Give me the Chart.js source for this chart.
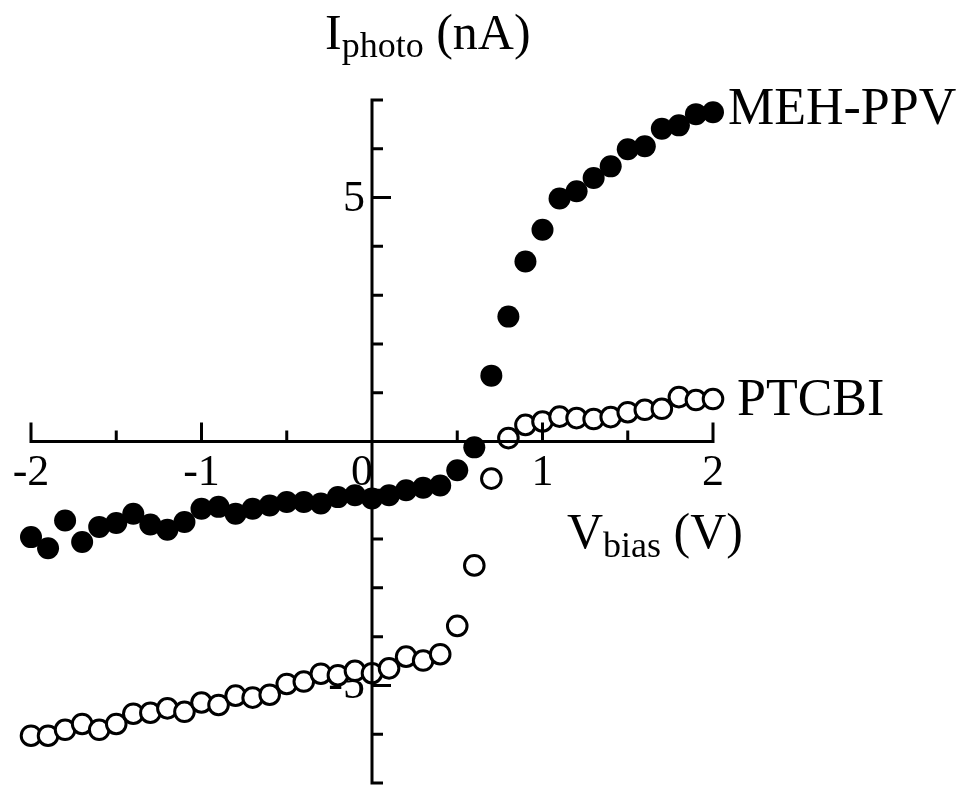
<!DOCTYPE html>
<html><head><meta charset="utf-8">
<script src="https://cdn.jsdelivr.net/npm/chart.js@4.4.0/dist/chart.umd.min.js"></script>
<style>html,body{margin:0;padding:0;background:#fff;} canvas{display:block;}</style>
</head><body>
<canvas id="c" width="967" height="787"></canvas>
<script>
const voltage = [-2.0,-1.9,-1.8,-1.7,-1.6,-1.5,-1.4,-1.3,-1.2,-1.1,-1.0,
  -0.9,-0.8,-0.7,-0.6,-0.5,-0.4,-0.3,-0.2,-0.1,0.0,
  0.1,0.2,0.3,0.4,0.5,0.6,0.7,0.8,0.9,1.0,
  1.1,1.2,1.3,1.4,1.5,1.6,1.7,1.8,1.9,2.0];
const mehPPV = [-1.96,-2.19,-1.62,-2.06,-1.75,-1.67,-1.48,-1.70,-1.81,-1.65,-1.38,
  -1.34,-1.48,-1.38,-1.31,-1.24,-1.24,-1.27,-1.14,-1.10,-1.17,
  -1.10,-1.00,-0.95,-0.90,-0.59,-0.12,1.35,2.56,3.69,4.34,
  4.98,5.13,5.40,5.64,5.99,6.05,6.41,6.48,6.71,6.75];
const ptcbi = [-6.03,-6.03,-5.91,-5.79,-5.91,-5.79,-5.58,-5.56,-5.47,-5.54,-5.35,
  -5.40,-5.21,-5.25,-5.19,-4.97,-4.92,-4.76,-4.79,-4.70,-4.75,
  -4.65,-4.41,-4.49,-4.36,-3.78,-2.54,-0.76,0.07,0.34,0.41,
  0.51,0.48,0.46,0.50,0.60,0.65,0.67,0.91,0.85,0.87];
const seriesNames = ['MEH-PPV','PTCBI'];
const xTickValues = [-2,-1.5,-1,-0.5,0.5,1,1.5,2];
const xMajorTicks = [-2,-1,1,2];
const xTickLabelValues = [-2,-1,0,1,2];
const xTickLabels = ['-2','-1','0','1','2'];
const yTickValues = [-7,-6,-5,-4,-3,-2,-1,1,2,3,4,5,6,7];
const yMajorTicks = [-5,5];
const yTickLabelValues = [5,-5];
const yTickLabels = ['5','-5'];

const SERIF = '"Liberation Serif","Times New Roman",serif';

function drawSubText(ctx, x, y, main, sub, tail, big, small, subDrop) {
  ctx.font = big + 'px ' + SERIF;
  ctx.fillText(main, x, y);
  x += ctx.measureText(main).width;
  ctx.font = small + 'px ' + SERIF;
  ctx.fillText(sub, x, y + subDrop);
  x += ctx.measureText(sub).width;
  ctx.font = big + 'px ' + SERIF;
  ctx.fillText(tail, x, y);
}

const axesPlugin = {
  id: 'axesPlugin',
  beforeDatasetsDraw(chart) {
    const ctx = chart.ctx, xs = chart.scales.x, ys = chart.scales.y;
    const y0 = ys.getPixelForValue(0), x0 = xs.getPixelForValue(0);
    ctx.save();
    ctx.fillStyle = '#000';
    ctx.textBaseline = 'alphabetic';
    ctx.font = '44px ' + SERIF;
    xTickLabelValues.forEach((v, i) => {
      const px = xs.getPixelForValue(v);
      if (v === 0) { ctx.textAlign = 'right'; ctx.fillText(xTickLabels[i], px + 1, y0 + 43); }
      else { ctx.textAlign = 'center'; ctx.fillText(xTickLabels[i], px, y0 + 43); }
    });
    ctx.textAlign = 'right';
    yTickLabelValues.forEach((v, i) => {
      ctx.fillText(yTickLabels[i], x0 - 7, ys.getPixelForValue(v) + 13);
    });
    ctx.textAlign = 'left';
    drawSubText(ctx, 325, 49, 'I', 'photo', ' (nA)', 50, 36, 8);
    drawSubText(ctx, 567, 548, 'V', 'bias', ' (V)', 50, 36, 9);
    ctx.font = '52px ' + SERIF;
    ctx.fillText(seriesNames[0], 728, 124);
    ctx.fillText(seriesNames[1], 737, 415);
    ctx.restore();
  },
  afterDatasetsDraw(chart) {
    const ctx = chart.ctx, xs = chart.scales.x, ys = chart.scales.y;
    const y0 = ys.getPixelForValue(0), x0 = xs.getPixelForValue(0);
    ctx.save();
    ctx.strokeStyle = '#000';
    ctx.lineWidth = 3;
    ctx.lineCap = 'butt';
    ctx.beginPath();
    ctx.moveTo(xs.getPixelForValue(-2) - 1.5, y0);
    ctx.lineTo(xs.getPixelForValue(2) + 1.5, y0);
    ctx.moveTo(x0, ys.getPixelForValue(7) - 1.5);
    ctx.lineTo(x0, ys.getPixelForValue(-7) + 1.5);
    xTickValues.forEach(v => {
      const px = xs.getPixelForValue(v);
      const len = xMajorTicks.includes(v) ? 19 : 11;
      ctx.moveTo(px, y0);
      ctx.lineTo(px, y0 - len);
    });
    yTickValues.forEach(v => {
      const py = ys.getPixelForValue(v);
      const len = yMajorTicks.includes(v) ? 19 : 11;
      ctx.moveTo(x0, py);
      ctx.lineTo(x0 + len, py);
    });
    ctx.stroke();
    ctx.restore();
  }
};

new Chart(document.getElementById('c'), {
  type: 'scatter',
  data: {
    datasets: [
      { label: seriesNames[1], data: voltage.map((v, i) => ({x: v, y: ptcbi[i]})),
        pointRadius: 9.8, pointBorderWidth: 3, pointBackgroundColor: '#fff', pointBorderColor: '#000',
        showLine: false, clip: false },
      { label: seriesNames[0], data: voltage.map((v, i) => ({x: v, y: mehPPV[i]})),
        pointRadius: 11, pointBorderWidth: 0, pointBackgroundColor: '#000', pointBorderColor: '#000',
        showLine: false, clip: false }
    ]
  },
  options: {
    responsive: false,
    devicePixelRatio: 1,
    animation: false,
    layout: { autoPadding: false, padding: { left: 31, right: 254, top: 100, bottom: 4 } },
    plugins: { legend: { display: false }, tooltip: { enabled: false } },
    scales: {
      x: { type: 'linear', min: -2, max: 2, display: false },
      y: { type: 'linear', min: -7, max: 7, display: false }
    },
    elements: { point: { hoverRadius: 11 } }
  },
  plugins: [axesPlugin]
});
</script>
</body></html>
